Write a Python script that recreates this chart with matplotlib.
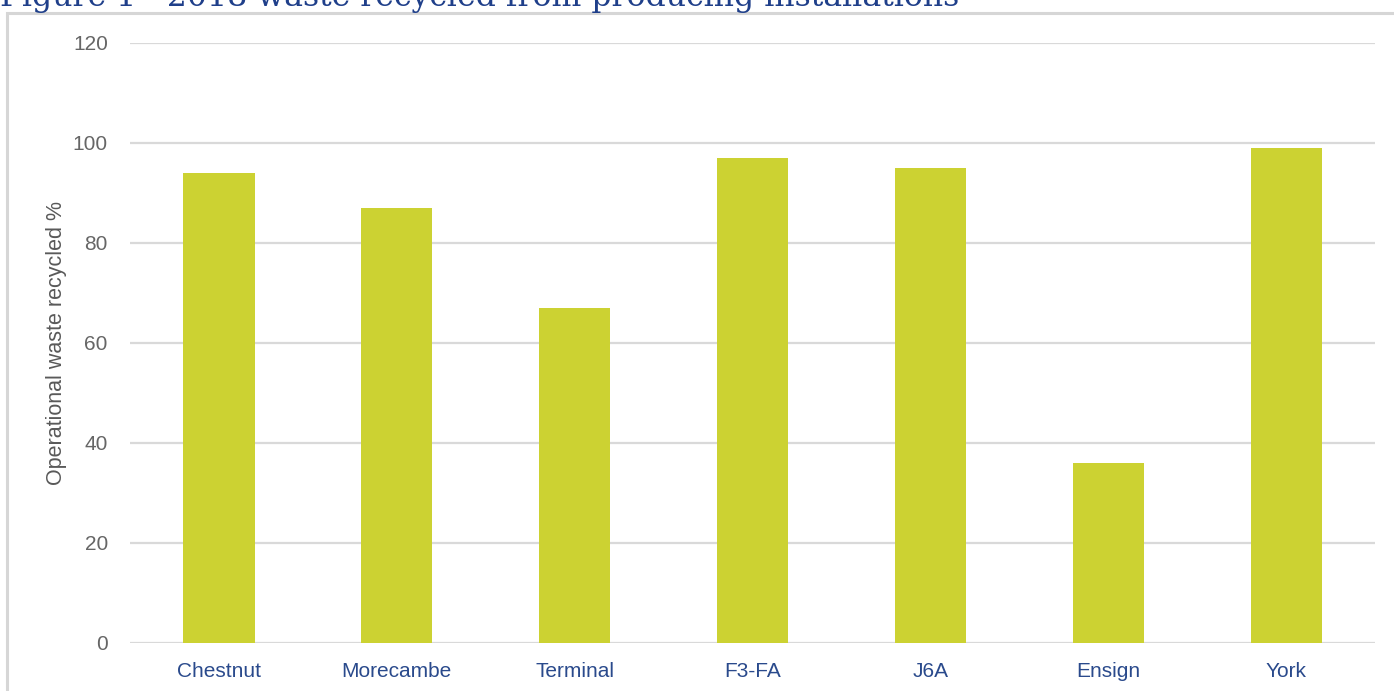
import matplotlib
matplotlib.use("Agg")
import matplotlib.pyplot as plt
from matplotlib.patches import Rectangle

categories = ["Chestnut", "Morecambe", "Terminal", "F3-FA", "J6A", "Ensign", "York"]
values = [94, 87, 67, 97, 95, 36, 99]
yticks = [0, 20, 40, 60, 80, 100, 120]
title = "Figure 1 - 2018 waste recycled from producing installations"
ylabel = "Operational waste recycled %"

W, H = 1394, 691
fig = plt.figure(figsize=(W / 100, H / 100), dpi=100)
plt.rcParams['font.family'] = ['Liberation Sans', 'DejaVu Sans']

# frame box
fig.patches.append(Rectangle((7 / W, -0.1), 1.2, (H - 12.5) / H + 0.1,
                             transform=fig.transFigure, fill=False,
                             edgecolor="#d6d6d6", linewidth=2.2))

# cut-off title
fig.text(0 / W, 1 - 6 / H, title, fontsize=22.7, color="#1f3f8a",
         family=['DejaVu Serif'], ha="left", va="baseline")

ax = fig.add_axes([130 / W, (H - 643) / H, (1375 - 130) / W, 600 / H])
x = range(len(categories))
ax.bar(x, values, width=0.4, color="#ccd232", zorder=3)
ax.set_xlim(-0.5, len(categories) - 0.5)
ax.set_ylim(0, 120)
ax.set_yticks(yticks)
ax.set_yticklabels([str(v) for v in yticks], fontsize=15, color="#666666")
ax.set_xticks(list(x))
ax.set_xticklabels(categories, fontsize=15, color="#2a4a8c")
ax.tick_params(axis="both", length=0)
ax.tick_params(axis="y", pad=16)
ax.tick_params(axis="x", pad=14)
ax.grid(axis="y", color="#d9d9d9", linewidth=1.6, zorder=0)
for s in ax.spines.values():
    s.set_visible(False)
ax.set_ylabel(ylabel, fontsize=15.5, color="#595959", labelpad=4)

fig.savefig("out.png", dpi=100)
